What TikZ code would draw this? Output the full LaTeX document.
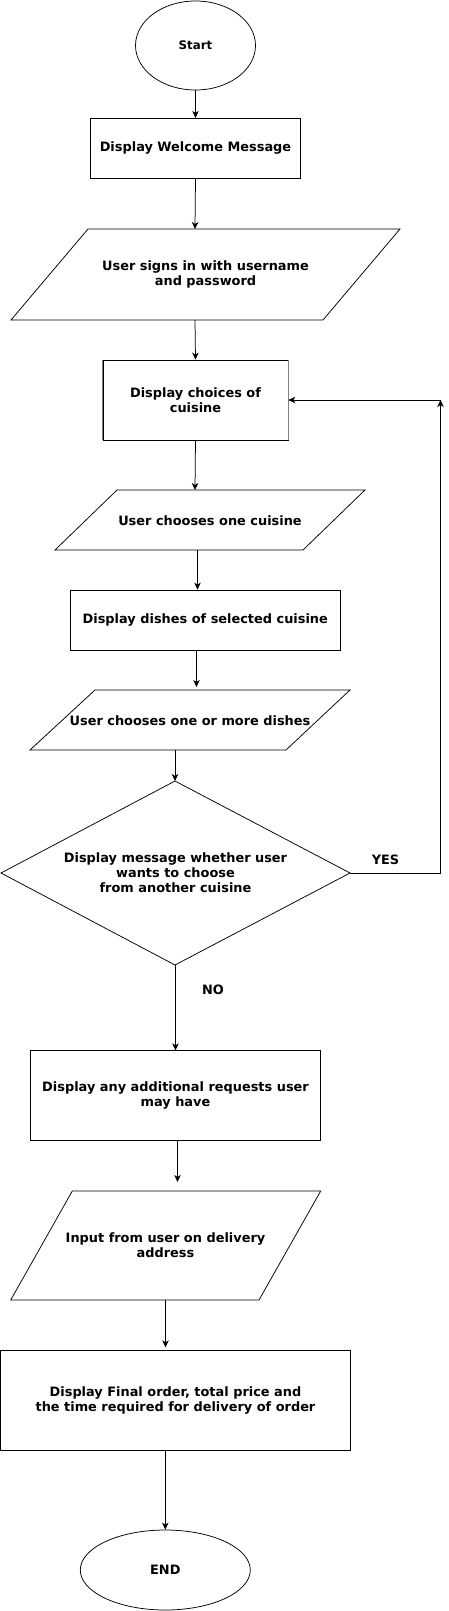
\documentclass[tikz,border=0pt]{standalone}
\usepackage{fontspec}
\setmainfont{DejaVu Sans}
\usetikzlibrary{shapes.geometric,arrows.meta}
\begin{document}
\begin{tikzpicture}[x=1pt,y=-1pt,
  txt/.style={font=\bfseries\fontsize{12.9}{15}\selectfont, align=center, inner sep=0pt},
  shp/.style={draw=black, line width=0.75pt},
  boxn/.style={shp, rectangle, inner sep=0pt, txt},
  ell/.style={shp, ellipse, inner sep=0pt, txt},
  arr/.style={-{Stealth[length=7pt,width=6.5pt,inset=2pt]}, line width=0.75pt},
  lbl/.style={txt}]
\useasboundingbox (0,0) rectangle (449,1611);
% Start
\node[ell, minimum width=120pt, minimum height=89pt, font=\bfseries\fontsize{11.8}{14}\selectfont] (start) at (195.5,45.5) {Start};
% Welcome
\node[boxn, minimum width=210.4pt, minimum height=60pt] (welcome) at (195.5,148.3) {Display Welcome Message};
% P1
\draw[shp] (88,229) -- (400,229) -- (323,320) -- (11,320) -- cycle;
\node[txt] (p1) at (205.5,274.5) {User signs in with username\\and password};
\coordinate (p1t) at (195,229);
\coordinate (p1b) at (195,320);
% Choices
\node[boxn, minimum width=185pt, minimum height=80pt] (choices) at (195.5,400) {Display choices of\\cuisine};
\draw[draw=black!50, line width=0.9pt] (choices.north west) -- (choices.south west) (choices.north east) -- (choices.south east);
% P2
\draw[shp] (117,490) -- (365,490) -- (303,550) -- (55,550) -- cycle;
\node[txt] (p2) at (210,520.5) {User chooses one cuisine};
\coordinate (p2t) at (195,490);
\coordinate (p2b) at (197.5,550);
% Dishes
\node[boxn, minimum width=270.7pt, minimum height=60pt] (dishes) at (205.3,620) {Display dishes of selected cuisine};
% P3
\draw[shp] (95,690) -- (350,690) -- (286,750) -- (30,750) -- cycle;
\node[txt] (p3) at (190,721) {User chooses one or more dishes};
\coordinate (p3t) at (196.5,690);
\coordinate (p3b) at (175,750);
% Diamond
\draw[shp] (175,781) -- (350,873) -- (175,965) -- (1,873) -- cycle;
\node[txt] (dec) at (175.5,873) {Display message whether user\\wants to choose\\from another cuisine};
\coordinate (dect) at (175,781);
\coordinate (decb) at (175.5,965);
\coordinate (decr) at (350,873);
\coordinate (c1) at (440.5,873);
\coordinate (c2) at (440.5,400);
\node[lbl] (yes) at (385.5,860) {YES};
\node[lbl] (no) at (213,990) {NO};
% Additional
\node[boxn, minimum width=290.4pt, minimum height=89.6pt] (addl) at (175.5,1095.5) {Display any additional requests user\\may have};
% P4
\draw[shp] (72.3,1191) -- (320.7,1191) -- (259,1300) -- (10.7,1300) -- cycle;
\node[txt] (p4) at (165.5,1245.5) {Input from user on delivery\\address};
\coordinate (p4t) at (177.5,1191);
\coordinate (p4b) at (165.5,1300);
% Final
\node[boxn, minimum width=350.2pt, minimum height=99.6pt] (final) at (175.5,1400.5) {Display Final order, total price and\\the time required for delivery of order};
% End
\node[ell, minimum width=170pt, minimum height=80pt] (end) at (165.3,1570) {END};
% Connectors
\draw[arr] (start.south) -- (welcome.north);
\draw[arr] (welcome.south) -- (p1t);
\draw[arr] (p1b) -- (choices.north);
\draw[arr] (choices.south) -- (p2t);
\draw[arr] (p2b) -- (p2b |- dishes.north);
\draw[arr] (196.5,650) -- ([yshift=3pt]p3t);
\draw[arr] (p3b) -- (dect);
\draw[arr] (decb) -- (decb |- addl.north);
\draw[arr] (177.5,1140.3) -- ([yshift=9pt]p4t);
\draw[arr] (p4b) -- ([yshift=3pt]p4b |- final.north);
\draw[arr] (final.south -| end.north) -- (end.north);
\draw[arr] (decr) -- (c1) -- (c2);
\draw[arr] (c2) -- (choices.east);
\end{tikzpicture}
\end{document}
